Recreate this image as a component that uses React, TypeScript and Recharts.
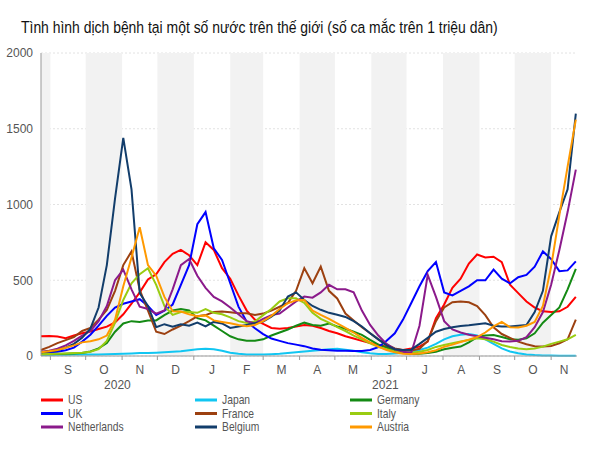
import { LineChart, Line, XAxis, YAxis, CartesianGrid, ReferenceArea } from 'recharts';

// x values are days counted from 1 Sep 2020, one sample a week
const DAYS = [
  -8, -1, 6, 13, 20, 27, 34, 41, 48, 55,
  62, 69, 76, 83, 90, 97, 104, 111, 118, 125,
  132, 139, 146, 153, 160, 167, 174, 181, 188, 195,
  202, 209, 216, 223, 230, 237, 244, 251, 258, 265,
  272, 279, 286, 293, 300, 307, 314, 321, 328, 335,
  342, 349, 356, 363, 370, 377, 384, 391, 398, 405,
  412, 419, 426, 433, 440, 447,
];
const X_DOMAIN = [-8, 448];

const MONTH_STARTS = [0, 30, 61, 91, 122, 153, 181, 212, 242, 273, 303, 334, 365, 395, 426];
const MONTH_LABELS = ['S', 'O', 'N', 'D', 'J', 'F', 'M', 'A', 'M', 'J', 'J', 'A', 'S', 'O', 'N'];
const SHADED_MONTHS = [[-8, 0], [30, 61], [91, 122], [153, 181], [212, 242], [273, 303], [334, 365], [395, 426]];
const YEAR_LABELS = ['2020', '2021'];
const YEAR_STARTS = [-8, 122];
const Y_TICKS = [0, 500, 1000, 1500, 2000];

const US = [
  130, 132, 128, 118, 135, 150, 162, 178, 194, 222,
  275, 345, 420, 505, 540, 620, 675, 700, 665, 600,
  750, 700, 580, 510, 400, 300, 240, 212, 185, 180,
  185, 195, 205, 200, 185, 165, 150, 130, 115, 100,
  85, 75, 62, 45, 40, 50, 62, 95, 250, 340,
  450, 510, 610, 670, 650, 655, 620, 470, 415, 360,
  320, 295, 290, 295, 325, 390,
];
const JAPAN = [
  8, 8, 8, 9, 10, 10, 10, 10, 12, 14,
  15, 17, 20, 20, 22, 25, 28, 32, 38, 45,
  48, 45, 35, 22, 15, 10, 10, 10, 12, 15,
  20, 25, 30, 35, 40, 45, 48, 42, 35, 25,
  18, 14, 14, 16, 20, 28, 40, 55, 80, 110,
  130, 140, 145, 135, 110, 80, 50, 30, 18, 10,
  6, 4, 3, 2, 2, 2,
];
const GERMANY = [
  12, 12, 13, 15, 17, 20, 30, 50, 85, 160,
  215, 230, 225, 235, 235, 270, 300, 310, 300, 250,
  235, 200, 165, 130, 110, 100, 100, 110, 135, 155,
  175, 200, 220, 205, 200, 215, 195, 180, 160, 140,
  106, 75, 55, 32, 20, 14, 15, 20, 28, 45,
  55, 62, 90, 125, 135, 139, 125, 110, 108, 117,
  150, 220, 270, 320, 440, 575,
];
const UK = [
  22, 25, 28, 38, 55, 95, 140, 200, 265, 320,
  345, 360, 375, 330, 271, 300, 340, 470, 600, 870,
  950, 711, 634, 480, 326, 227, 183, 145, 115, 100,
  85, 75, 65, 50, 42, 38, 35, 34, 33, 33,
  40, 58, 100, 150, 240, 350, 460, 560, 620, 420,
  400, 430, 460, 500, 500, 570, 510, 480, 520, 535,
  590, 690, 640, 560, 565, 625,
];
const FRANCE = [
  40, 60, 85, 105, 125, 165, 185, 240, 304, 430,
  600, 690, 436, 300, 160, 145, 175, 200, 230, 262,
  270, 290, 293, 288, 282, 282, 271, 280, 300, 325,
  350, 430, 580, 480, 590, 430, 380, 280, 235, 190,
  150, 110, 75, 50, 38, 36, 48, 100, 230, 320,
  355, 360, 355, 330, 270, 190, 145, 120, 95, 78,
  65, 62, 66, 84, 110, 240,
];
const ITALY = [
  12, 13, 15, 17, 20, 22, 28, 45, 100, 220,
  370, 480, 540, 579, 470, 330, 271, 290, 290, 285,
  310, 285, 275, 255, 230, 218, 227, 270, 310, 360,
  381, 381, 350, 285, 245, 220, 190, 165, 135, 110,
  84, 60, 45, 30, 24, 22, 28, 40, 60, 72,
  85, 95, 105, 117, 110, 95, 73, 60, 50, 44,
  50, 62, 80, 95, 110, 140,
];
const NETHERLANDS = [
  28, 35, 48, 70, 100, 135, 165, 230, 330, 500,
  570, 440, 326, 310, 280, 300, 440, 600, 640, 530,
  450, 390, 360, 320, 275, 230, 215, 245, 270, 280,
  320, 360, 392, 385, 420, 470, 440, 440, 420, 300,
  205, 135, 80, 45, 28, 22, 200, 535, 390, 230,
  175, 155, 140, 130, 120, 110, 97, 95, 100, 125,
  190, 290, 470, 700, 950, 1230,
];
const BELGIUM = [
  25, 30, 38, 55, 80, 120, 180, 320, 600, 1040,
  1440, 1100, 414, 330, 190, 210, 194, 210, 200, 220,
  195, 225, 215, 185, 195, 205, 216, 227, 260, 300,
  392, 420, 370, 330, 305, 285, 272, 258, 230, 195,
  150, 110, 70, 45, 40, 42, 80, 120, 160, 178,
  190, 198, 203, 210, 216, 200, 194, 194, 200, 205,
  290, 430, 790, 950, 1100, 1600,
];
const AUSTRIA = [
  25, 32, 40, 55, 70, 90, 97, 110, 135, 240,
  460, 650, 850, 600, 530, 390, 295, 293, 275, 262,
  268, 235, 225, 216, 205, 196, 205, 230, 265, 310,
  348, 368, 370, 300, 271, 245, 215, 185, 155, 120,
  90, 62, 40, 24, 15, 13, 17, 25, 38, 60,
  75, 92, 108, 125, 155, 195, 225, 190, 188, 200,
  225, 330, 590, 930, 1250, 1560,
];

const SERIES = [
  { name: 'US', color: '#ff0000', values: US },
  { name: 'Japan', color: '#11c6f2', values: JAPAN },
  { name: 'Germany', color: '#148a14', values: GERMANY },
  { name: 'UK', color: '#0000ff', values: UK },
  { name: 'France', color: '#9c4010', values: FRANCE },
  { name: 'Italy', color: '#99cc11', values: ITALY },
  { name: 'Netherlands', color: '#8b1a8b', values: NETHERLANDS },
  { name: 'Belgium', color: '#123d6b', values: BELGIUM },
  { name: 'Austria', color: '#ff9900', values: AUSTRIA },
];

const data = DAYS.map((day, i) => {
  const row: Record<string, number> = { day };
  SERIES.forEach((s) => {
    row[s.name] = s.values[i];
  });
  return row;
});

const YEAR_CENTERS = YEAR_STARTS.map((start, i) => (start + (YEAR_STARTS[i + 1] ?? X_DOMAIN[1])) / 2);

const PLOT_LEFT = 41;
const PLOT_RIGHT = 577;
const PX_PER_DAY = (PLOT_RIGHT - PLOT_LEFT) / (X_DOMAIN[1] - X_DOMAIN[0]);
const FONT = "'Liberation Sans', Arial, sans-serif";

// tick sits on the month boundary, label goes in the middle of the month
const MonthTick = (props: any) => {
  const { x, y, payload } = props;
  const i = MONTH_STARTS.indexOf(payload.value);
  if (i < 0) return null;
  const end = Math.min(MONTH_STARTS[i + 1] ?? X_DOMAIN[1], X_DOMAIN[1]);
  const cx = x + ((end - payload.value) / 2) * PX_PER_DAY;
  return (
    <text x={cx} y={y} dy="0.71em" textAnchor="middle" fontSize={12} fill="#555" fontFamily={FONT}>
      {MONTH_LABELS[i]}
    </text>
  );
};

const YearTick = (props: any) => {
  const { x, y, payload } = props;
  const i = YEAR_CENTERS.indexOf(payload.value);
  return (
    <text x={x} y={y} dy="0.71em" textAnchor="middle" fontSize={12} fill="#555" fontFamily={FONT}>
      {YEAR_LABELS[i]}
    </text>
  );
};

const LEGEND_X = [41, 195, 350];
const LEGEND_Y = [8, 21.5, 35];

export default function App() {
  return (
    <div style={{ position: 'absolute', left: 0, top: 0, width: 600, height: 450, background: '#fff' }}>
      <svg width={600} height={48} style={{ position: 'absolute', left: 0, top: 0 }}>
        <text transform="translate(21,33) scale(0.82,1)" fontSize={17} fill="#111" fontFamily={FONT}>
          Tình hình dịch bệnh tại một số nước trên thế giới (số ca mắc trên 1 triệu dân)
        </text>
      </svg>
      <div style={{ position: 'absolute', left: 0, top: 0 }}>
        <LineChart width={600} height={394} data={data} margin={{ top: 53, right: 23, bottom: 4, left: 0 }}>
          {SHADED_MONTHS.map(([a, b]) => (
            <ReferenceArea key={a} x1={a} x2={b} fill="#f2f2f2" fillOpacity={1} stroke="none" />
          ))}
          <CartesianGrid vertical={false} stroke="#e2e2e2" strokeDasharray="2 2" />
          <XAxis
            dataKey="day"
            type="number"
            domain={X_DOMAIN}
            ticks={MONTH_STARTS}
            interval={0}
            tick={<MonthTick />}
            tickSize={4}
            tickMargin={5}
            height={16}
            stroke="#999"
          />
          <XAxis
            xAxisId="year"
            dataKey="day"
            type="number"
            domain={X_DOMAIN}
            ticks={YEAR_CENTERS}
            interval={0}
            tick={<YearTick />}
            axisLine={false}
            tickLine={false}
            tickSize={0}
            tickMargin={8}
            height={18}
          />
          <YAxis
            width={41}
            domain={[0, 2000]}
            ticks={Y_TICKS}
            interval={0}
            tickLine={false}
            stroke="#999"
            tick={{ fontSize: 12, fill: '#555', fontFamily: FONT }}
          />
          {SERIES.map((s) => (
            <Line
              key={s.name}
              dataKey={s.name}
              stroke={s.color}
              strokeWidth={2}
              dot={false}
              type="linear"
              isAnimationActive={false}
            />
          ))}
        </LineChart>
      </div>
      <svg width={600} height={56} style={{ position: 'absolute', left: 0, top: 392 }}>
        {SERIES.map((s, i) => {
          const lx = LEGEND_X[i % 3];
          const ly = LEGEND_Y[Math.floor(i / 3)];
          return (
            <g key={s.name}>
              <line x1={lx} x2={lx + 22} y1={ly} y2={ly} stroke={s.color} strokeWidth={3} />
              <text
                transform={`translate(${lx + 27},${ly + 4.3}) scale(0.86,1)`}
                fontSize={12}
                fill="#555"
                fontFamily={FONT}
              >
                {s.name}
              </text>
            </g>
          );
        })}
      </svg>
    </div>
  );
}
